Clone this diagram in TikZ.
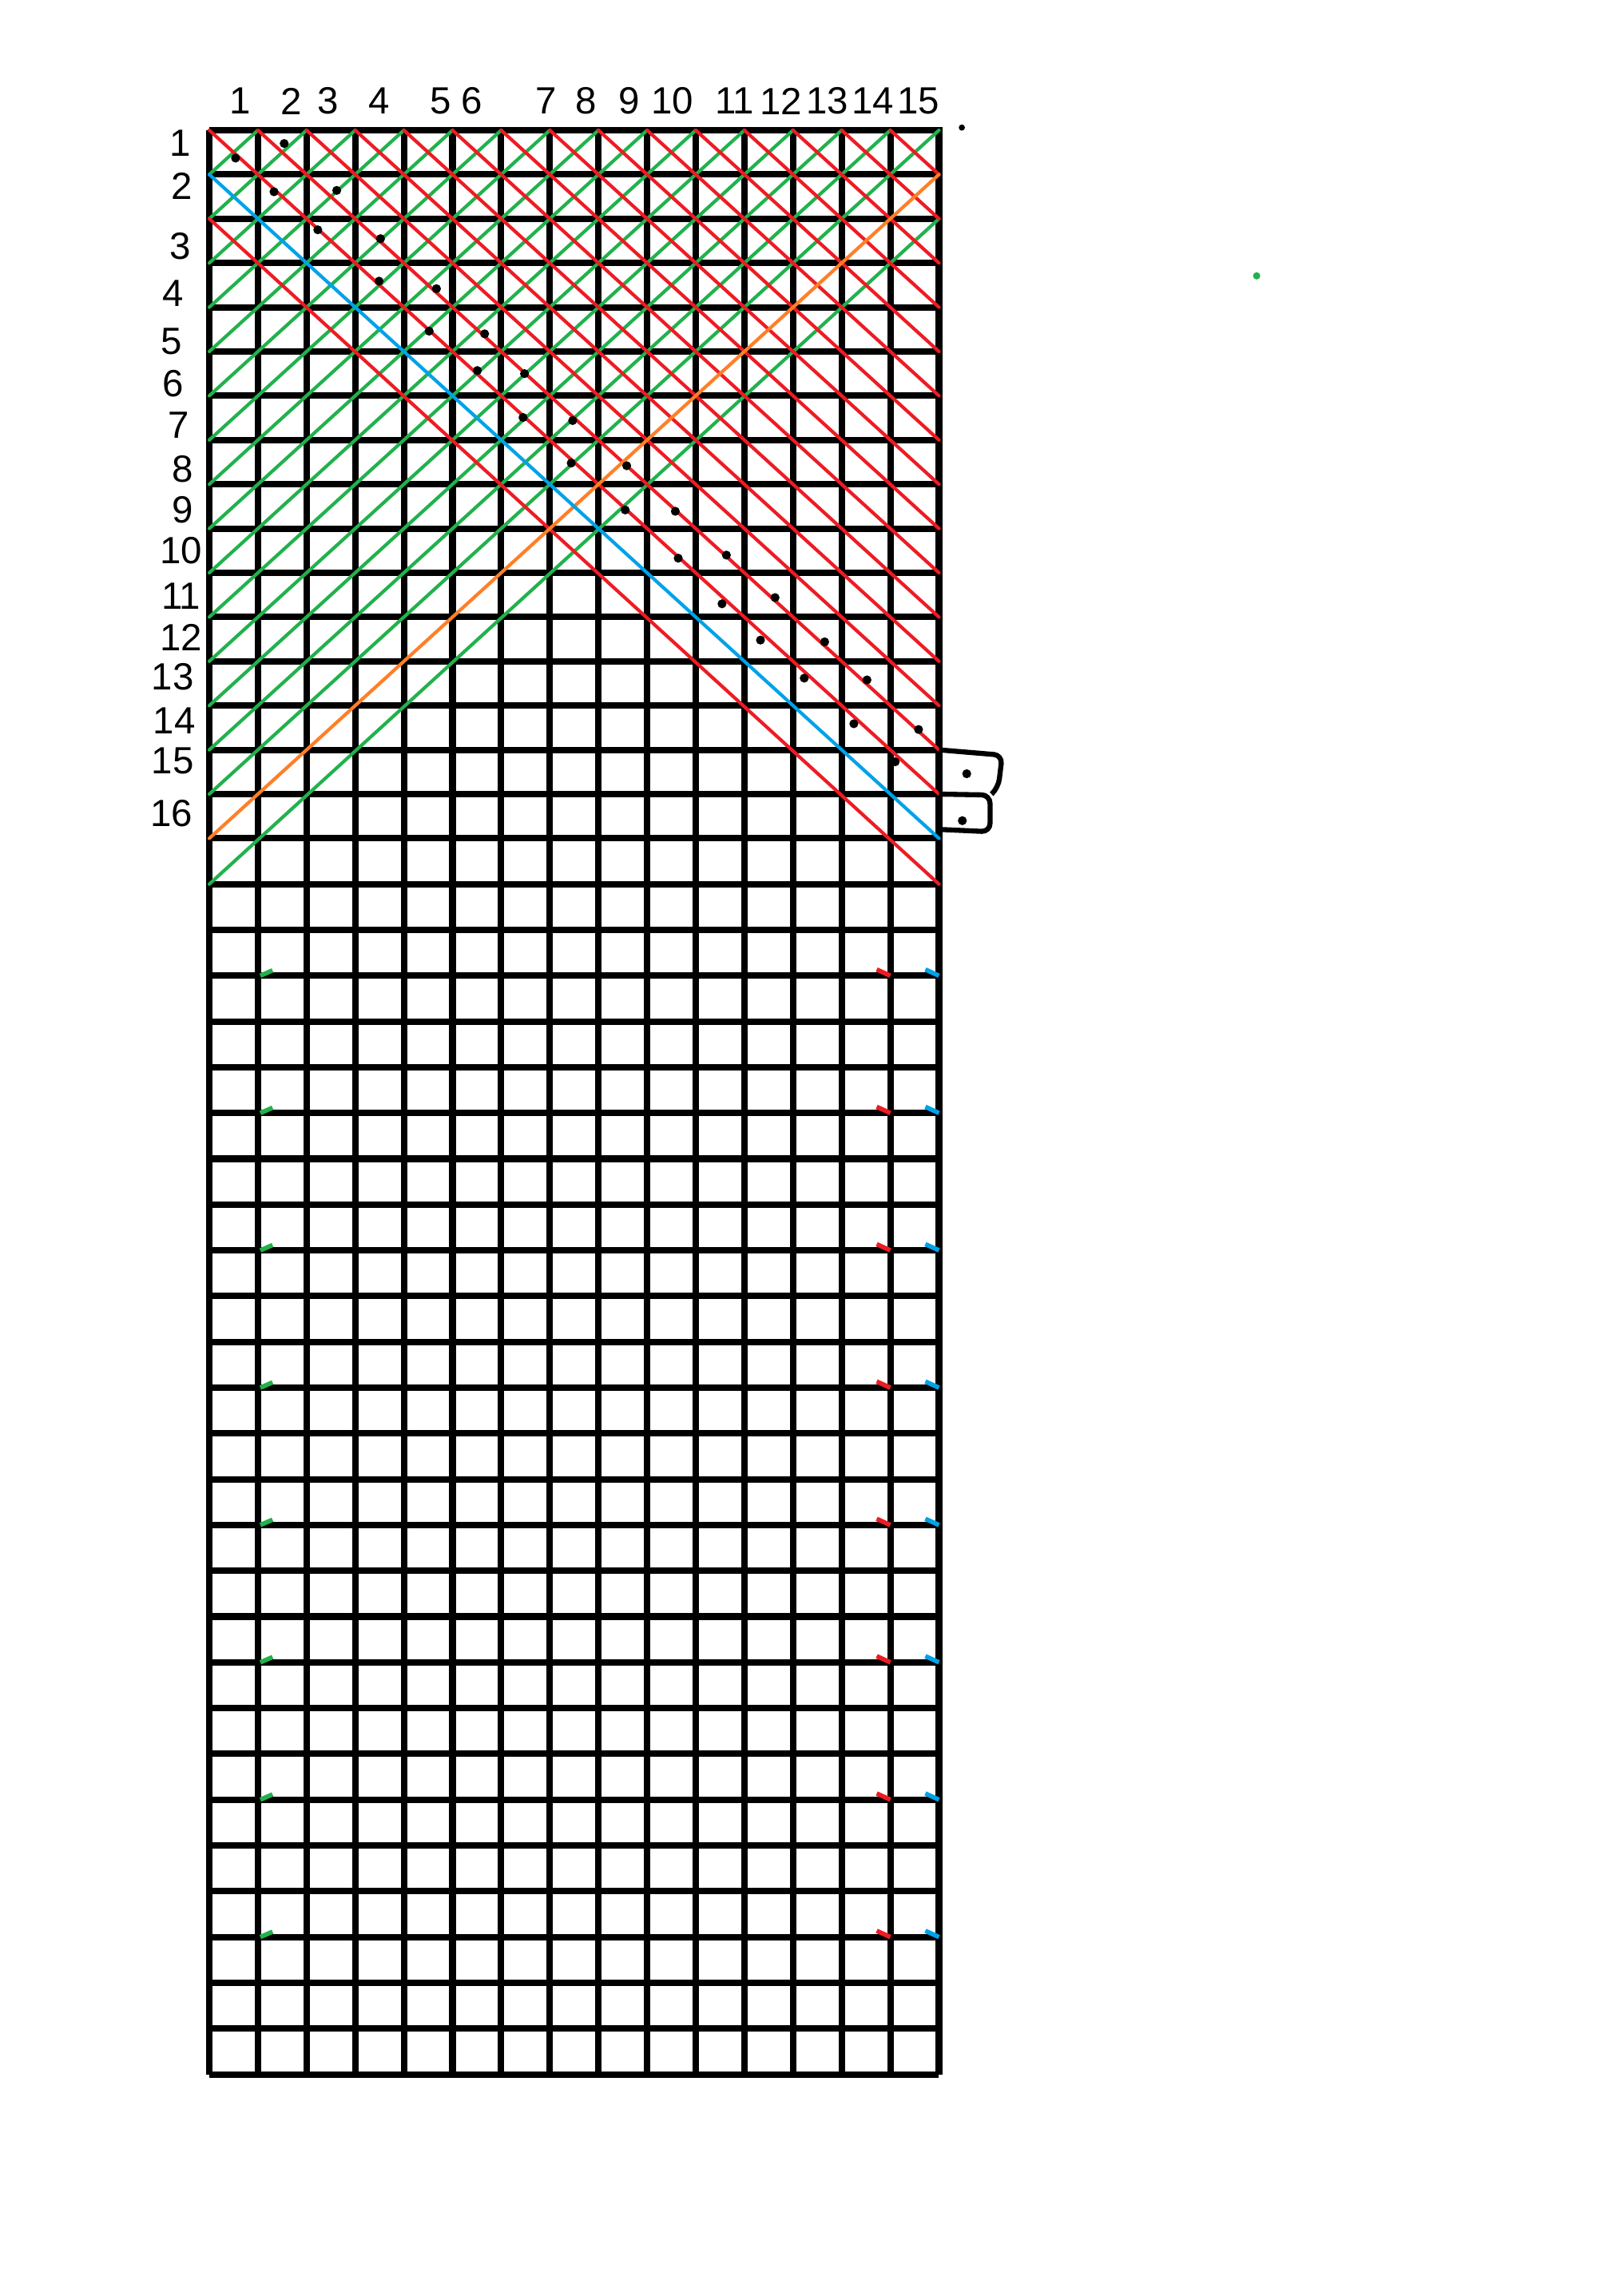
\documentclass[tikz,border=0pt]{standalone}
\usepackage{fontspec}
\setmainfont{Liberation Sans}
\usetikzlibrary{calc}
\definecolor{paintred}{RGB}{237,28,36}
\definecolor{paintgreen}{RGB}{34,177,76}
\definecolor{paintblue}{RGB}{0,162,232}
\definecolor{paintorange}{RGB}{255,127,39}

\begin{document}
\begin{tikzpicture}[x=0.609cm, y=-0.554cm,
    gridline/.style={line width=2.3pt, black},
    diag/.style={line width=1.2pt, line cap=round},
    seam/.style={line width=1.6pt},
    lbl/.style={font=\fontsize{13.5}{15}\selectfont, inner sep=0pt},
    box/.style={line width=1.8pt, rounded corners=3pt}]
    \useasboundingbox (-2.62cm,1.63cm) rectangle (17.40cm,-27.11cm);
    \pgfmathsetmacro{\lowr}{57.3/55.4}
    \pgfmathsetmacro{\ysev}{16+\lowr}
    \pgfmathsetmacro{\ybot}{16+27*\lowr}
    % grid, upper block (16 rows)
    \foreach \r in {0,...,16}
        \draw[gridline] (0,\r) -- (15.08,\r);
    % grid, lower block (27 rows)
    \foreach \r in {1,...,27} {
        \pgfmathsetmacro{\yy}{16+\r*\lowr}
        \draw[gridline] (0,\yy) -- (15,\yy);
    }
    \foreach \c in {0,...,15}
        \draw[gridline] (\c,0) -- (\c,\ybot);
    % green diagonals
    \foreach \k in {1,...,15}
        \draw[diag, paintgreen] (0,\k) -- (\k,0);
    \draw[diag, paintgreen] (0,\ysev) -- (15,2);
    % red diagonals
    \foreach \j in {0,...,14}
        \draw[diag, paintred] (\j,0) -- (15,{15-\j});
    \draw[diag, paintred] (0,2) -- (15,\ysev);
    \draw[diag, paintorange] (0,16) -- (15,1);
    \draw[diag, paintblue] (0,1) -- (15,16);
    % seam stubs in the lower block
    \foreach \L in {19,22,...,40} {
        \pgfmathsetmacro{\yy}{16+(\L-16)*\lowr}
        \draw[seam, paintgreen] (1.05,\yy) -- (1.3,{\yy-0.12});
        \draw[seam, paintred] (13.72,{\yy-0.14}) -- (14,\yy);
        \draw[seam, paintblue] (14.72,{\yy-0.14}) -- (15,\yy);
    }
    % dots
    \foreach \x/\y in {0.54/0.63, 1.54/0.30, 1.33/1.39, 2.62/1.36, 2.23/2.25, 3.52/2.45,
        3.49/3.41, 4.67/3.58, 4.52/4.54, 5.66/4.60, 5.51/5.43, 6.48/5.50,
        6.45/6.49, 7.47/6.56, 7.44/7.52, 8.58/7.58, 8.55/8.58, 9.58/8.61,
        9.64/9.67, 10.63/9.60, 10.54/10.70, 11.63/10.56, 11.33/11.52, 12.65/11.56,
        12.23/12.38, 13.52/12.42, 13.25/13.41, 14.58/13.54, 14.10/14.27,
        15.57/14.54, 15.48/15.60}
        \fill (\x,\y) circle (1.6pt);
    % boxes at the right
    \draw[box] (15,14) -- (16.3,14.12) -- (16.22,14.85) -- (16.08,15.0);
    \draw[box] (15,15) -- (16.05,15.02) -- (16.05,15.85) -- (15.05,15.8);
    % stray dots
    \fill[paintgreen] (21.53,3.29) circle (1.3pt);
    \fill (15.47,-0.06) circle (1.1pt);
    % column labels
    \foreach \n/\x in {1/0.63, 2/1.69, 3/2.44, 4/3.49, 5/4.75, 6/5.4, 7/6.93, 8/7.74,
        9/8.64, 10/9.52, 11/10.8, 12/11.75, 13/12.7, 14/13.64, 15/14.58}
        \node[lbl] (c\n) at (\x,-0.66) {\n};
    % row labels
    \foreach \n/\x/\y in {1/-0.60/0.30, 2/-0.57/1.26, 3/-0.60/2.62, 4/-0.75/3.68,
        5/-0.78/4.77, 6/-0.75/5.73, 7/-0.63/6.66, 8/-0.54/7.65, 9/-0.54/8.58,
        10/-0.58/9.50, 11/-0.58/10.53, 12/-0.58/11.46, 13/-0.75/12.35,
        14/-0.72/13.35, 15/-0.75/14.25, 16/-0.78/15.43}
        \node[lbl] (r\n) at (\x,\y) {\n};
\end{tikzpicture}
\end{document}
